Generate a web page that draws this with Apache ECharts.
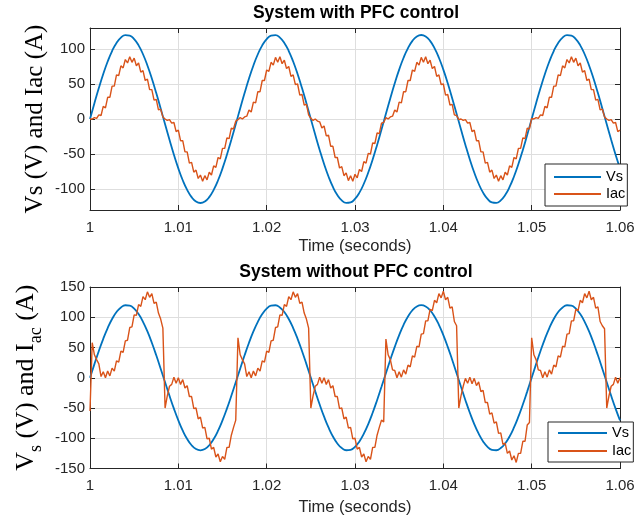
<!DOCTYPE html>
<html>
<head>
<meta charset="utf-8">
<script src="https://cdn.jsdelivr.net/npm/echarts/dist/echarts.min.js"></script>
<style>
html,body{margin:0;padding:0;background:#ffffff;}
#chart{width:635px;height:519px;}
</style>
</head>
<body>
<div id="chart"></div>
<script>
// ---------------- data ----------------
const xTickLabels = ['1', '1.01', '1.02', '1.03', '1.04', '1.05', '1.06'];
const timeStart = 1;          // seconds
const vsStep = 0.0005;        // sampling step of Vs (s)
const iacStep = 0.00025;      // sampling step of Iac (s)
const seriesNames = ['Vs', 'Iac'];

// Source voltage (V), one sample per 0.5 ms
const vs = [0, 22.5, 44.2, 64.3, 82.1, 97.1, 108.6, 116.2, 119.8, 119.1, 114.1, 105.2, 92.5, 76.5, 57.8, 37.1, 15.0, -7.5, -29.8, -51.1,
  -70.5, -87.5, -101.3, -111.6, -117.9, -120, -117.9, -111.6, -101.3, -87.5, -70.5, -51.1, -29.8, -7.5, 15.0, 37.1, 57.8, 76.5, 92.5, 105.2,
  114.1, 119.1, 119.8, 116.2, 108.6, 97.1, 82.1, 64.3, 44.2, 22.5, 0, -22.5, -44.2, -64.3, -82.1, -97.1, -108.6, -116.2, -119.8, -119.1,
  -114.1, -105.2, -92.5, -76.5, -57.8, -37.1, -15.0, 7.5, 29.8, 51.1, 70.5, 87.5, 101.3, 111.6, 117.9, 120, 117.9, 111.6, 101.3, 87.5,
  70.5, 51.1, 29.8, 7.5, -15.0, -37.1, -57.8, -76.5, -92.5, -105.2, -114.1, -119.1, -119.8, -116.2, -108.6, -97.1, -82.1, -64.3, -44.2, -22.5,
  0, 22.5, 44.2, 64.3, 82.1, 97.1, 108.6, 116.2, 119.8, 119.1, 114.1, 105.2, 92.5, 76.5, 57.8, 37.1, 15.0, -7.5, -29.8, -51.1, -70.5];

// Line current with PFC control (A), one sample per 0.25 ms
const iacPfc = [
  0, 0, 2, 1, 6, 5, 18, 16, 31, 31, 47, 47, 63, 62, 76, 73, 85, 80, 89, 81, 87, 76, 80, 67, 69, 55, 57, 42, 42, 27, 28, 13, 14, 3,
  0, -2, -1, -6, -5, -18, -16, -31, -31, -47, -47, -63, -62, -76, -73, -85, -80, -89, -81, -87, -76, -80, -67, -69, -55, -57, -42, -42, -27, -28, -13, -14, -3,
  -1, 2, 0, 3, 4, 13, 10, 24, 23, 39, 39, 55, 55, 70, 68, 81, 77, 88, 81, 89, 79, 84, 72, 75, 61, 63, 49, 50, 34, 35, 20, 21, 6,
  1, -2, 0, -3, -4, -13, -10, -24, -23, -39, -39, -55, -55, -70, -68, -81, -77, -88, -81, -89, -79, -84, -72, -75, -61, -63, -49, -50, -34, -35, -20, -21, -6, -5,
  2, 0, 3, 4, 13, 10, 24, 23, 39, 39, 55, 55, 70, 68, 81, 77, 88, 81, 89, 79, 84, 72, 75, 61, 63, 49, 50, 34, 35, 20, 21, 6, 5,
  -1, 0, -2, -1, -6, -5, -18, -16, -31, -31, -47, -47, -63, -62, -76, -73, -85, -80, -89, -81, -87, -76, -80, -67, -69, -55, -57, -42, -42, -27, -28, -13, -14,
  1, 0, 2, 1, 6, 5, 18, 16, 31, 31, 47, 47, 63, 62, 76, 73, 85, 80, 89, 81, 87, 76, 80, 67, 69, 55, 57, 42, 42, 27, 28, 13, 14, 3,
  0, -2, -1, -6, -5, -18, -16];

// Line current without PFC control (A), one sample per 0.25 ms
const iacNoPfc = [
  -55,
  58, 38, 30, 23, 2, 10, 0, 11, 3, 16, 11, 28, 26, 44, 42, 61, 62, 83, 84, 104, 103, 121, 118, 134, 129, 142, 133, 139, 123, 125, 107, 97, 82,
  -50, -30, -14, -11, 1, -9, 0, -11, -3, -17, -13, -31, -31, -51, -50, -68, -65, -83, -82, -101, -100, -118, -115, -131, -126, -139, -130, -135, -115, -115, -95, -82, -70,
  66, 38, 30, 23, 2, 10, 0, 11, 3, 16, 11, 28, 26, 44, 42, 61, 62, 83, 84, 104, 103, 121, 118, 134, 129, 142, 133, 139, 123, 125, 107, 97, 82,
  -50, -30, -14, -11, 1, -9, 0, -11, -3, -17, -13, -31, -31, -51, -50, -68, -65, -83, -82, -101, -100, -118, -115, -131, -126, -139, -130, -135, -115, -115, -95, -82, -70, -73,
  64, 38, 30, 13, 12, 0, 10, 1, 13, 6, 21, 18, 36, 34, 52, 51, 72, 73, 94, 94, 113, 111, 128, 124, 139, 132, 143, 129, 133, 115, 117, 93, 86,
  -50, -30, -14, -1, -9, 1, -10, -1, -13, -7, -23, -21, -41, -41, -60, -58, -75, -73, -92, -91, -110, -108, -125, -121, -136, -129, -140, -125, -125, -105, -105, -78, -74,
  66, 38, 30, 13, 12, 0, 10, 1, 13, 6, 21, 18, 36, 34, 52, 51, 72, 73, 94, 94, 113, 111, 128, 124, 139, 132, 143, 129, 133, 115, 117, 93, 86, 81,
  -50, -30, -14, -11, 1, -9, 0];

// ---------------- chart ----------------
const BLUE = '#0072BD';
const ORANGE = '#D95319';
const AXIS = '#262626';
const GRIDC = '#dedede';
const SANS = '"Liberation Sans", Arial, Helvetica, sans-serif';
const SERIF = '"Liberation Serif", "Times New Roman", serif';

const toPairs = (arr, step) => arr.map((v, i) => [timeStart + i * step, v]);

function xLabel(v) {
  const k = Math.round((v - timeStart) / 0.01);
  return xTickLabels[k] !== undefined ? xTickLabels[k] : '';
}

function xAxis(gridIndex, primary, nameGap) {
  return {
    type: 'value', gridIndex: gridIndex, position: primary ? 'bottom' : 'top',
    min: 1, max: 1.06, interval: 0.01,
    axisLine: { show: true, onZero: false, lineStyle: { color: AXIS, width: 1 } },
    axisTick: { show: true, inside: true, length: 5, lineStyle: { color: AXIS, width: 1 } },
    axisLabel: { show: primary, margin: 10, color: AXIS, fontSize: 15, fontFamily: SANS, formatter: xLabel },
    splitLine: { show: primary, lineStyle: { color: GRIDC, width: 1 } },
    name: primary ? 'Time (seconds)' : '', nameLocation: 'middle', nameGap: nameGap || 28,
    nameMoveOverlap: false,
    nameTextStyle: { color: AXIS, fontSize: 16.5, fontFamily: SANS }
  };
}

function yAxis(gridIndex, primary, range, extra) {
  const ax = {
    type: 'value', gridIndex: gridIndex, position: primary ? 'left' : 'right',
    min: -range, max: range,
    axisLine: { show: true, onZero: false, lineStyle: { color: AXIS, width: 1 } },
    axisTick: { show: true, inside: true, length: 5, lineStyle: { color: AXIS, width: 1 } },
    axisLabel: { show: primary, margin: 5, color: AXIS, fontSize: 15, fontFamily: SANS, showMinLabel: false, showMaxLabel: false },
    splitLine: { show: primary, lineStyle: { color: GRIDC, width: 1 } },
    nameMoveOverlap: false
  };
  return Object.assign(ax, extra || {});
}

const topY = { minInterval: 50, maxInterval: 50 };
const botY = { interval: 50 };
botY.axisLabel = { show: true, margin: 5, color: AXIS, fontSize: 15, fontFamily: SANS };

const chart = echarts.init(document.getElementById('chart'), null, { renderer: 'canvas' });

const legendBase = {
  orient: 'vertical', data: seriesNames, icon: 'rect', itemHeight: 2,
  borderColor: AXIS, borderWidth: 1, backgroundColor: '#ffffff', borderRadius: 0,
  selectedMode: false,
  textStyle: { color: '#000000', fontSize: 14.5, fontFamily: SANS, lineHeight: 17 }
};

const option = {
  animation: false,
  backgroundColor: '#ffffff',
  title: [
    { text: 'System with PFC control', left: 356, top: 4, textAlign: 'center', padding: 0,
      textStyle: { color: '#000000', fontSize: 17.5, fontWeight: 'bold', fontFamily: SANS } },
    { text: 'System without PFC control', left: 356, top: 263, textAlign: 'center', padding: 0,
      textStyle: { color: '#000000', fontSize: 17.5, fontWeight: 'bold', fontFamily: SANS } }
  ],
  legend: [
    Object.assign({}, legendBase, { left: 545, top: 164, itemWidth: 47, itemGap: 0, padding: [4.5, 2, 3.5, 9] }),
    Object.assign({}, legendBase, { left: 548, top: 422, itemWidth: 49, itemGap: 1, padding: [2.5, 2, 2.5, 10] })
  ],
  grid: [
    { left: 90, top: 28, width: 530, height: 182, containLabel: false, outerBoundsMode: 'none' },
    { left: 90, top: 287, width: 530, height: 181.5, containLabel: false, outerBoundsMode: 'none' }
  ],
  xAxis: [xAxis(0, true, 28), xAxis(0, false), xAxis(1, true, 30), xAxis(1, false)],
  yAxis: [
    yAxis(0, true, 130, Object.assign({}, topY, {
      name: 'Vs (V) and Iac (A)', nameLocation: 'middle', nameGap: 42, nameRotate: 90,
      nameTextStyle: { color: '#000000', fontSize: 25, fontFamily: SERIF }
    })),
    yAxis(0, false, 130, topY),
    yAxis(1, true, 150, Object.assign({}, botY, {
      name: '{m|V}{s|s}{m| (V) and I}{s|ac}{m| (A)}', nameLocation: 'middle', nameGap: 51, nameRotate: 90,
      nameTextStyle: {
        color: '#000000', fontSize: 26, fontFamily: SERIF,
        rich: {
          m: { fontSize: 26, lineHeight: 26, fontFamily: SERIF, color: '#000000' },
          s: { fontSize: 18, lineHeight: 18, fontFamily: SERIF, color: '#000000', padding: [21, 0, 0, 0] }
        }
      }
    })),
    yAxis(1, false, 150, { interval: 50 })
  ],
  series: [
    { name: 'Vs', type: 'line', xAxisIndex: 0, yAxisIndex: 0, data: toPairs(vs, vsStep), smooth: true,
      symbol: 'none', showSymbol: false, color: BLUE, lineStyle: { color: BLUE, width: 1.8 }, itemStyle: { color: BLUE }, z: 2 },
    { name: 'Iac', type: 'line', xAxisIndex: 0, yAxisIndex: 0, data: toPairs(iacPfc, iacStep),
      symbol: 'none', showSymbol: false, color: ORANGE, lineStyle: { color: ORANGE, width: 1.4 }, itemStyle: { color: ORANGE }, z: 3 },
    { name: 'Vs', type: 'line', xAxisIndex: 2, yAxisIndex: 2, data: toPairs(vs, vsStep), smooth: true,
      symbol: 'none', showSymbol: false, color: BLUE, lineStyle: { color: BLUE, width: 1.8 }, itemStyle: { color: BLUE }, z: 2 },
    { name: 'Iac', type: 'line', xAxisIndex: 2, yAxisIndex: 2, data: toPairs(iacNoPfc, iacStep),
      symbol: 'none', showSymbol: false, color: ORANGE, lineStyle: { color: ORANGE, width: 1.4 }, itemStyle: { color: ORANGE }, z: 3 }
  ]
};

chart.setOption(option);
</script>
</body>
</html>
